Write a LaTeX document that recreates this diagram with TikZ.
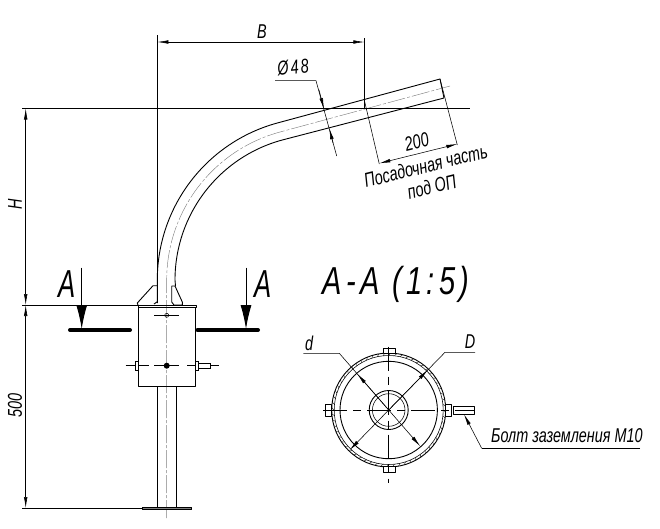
\documentclass[tikz,border=0pt]{standalone}
\usepackage{fontspec}
\setmainfont{Liberation Sans}
\newfontfamily\wideletters[LetterSpace=15]{Liberation Sans}
\usetikzlibrary{arrows.meta}

\tikzset{
  main/.style={line width=0.9pt, line join=round},
  thin line/.style={line width=0.55pt},
  axis/.style={line width=0.45pt, gray, dash pattern=on 18pt off 2pt on 3pt off 2pt},
  centre mark/.style={line width=0.55pt, dash pattern=on 24pt off 6pt on 8pt off 6pt},
  dimtip/.style={-{Latex[length=11pt,width=3.6pt]}},
  dimtips/.style={{Latex[length=11pt,width=3.6pt]}-{Latex[length=11pt,width=3.6pt]}},
  cutbar/.style={line width=4pt, line cap=round},
  dimtext/.style={inner sep=0pt, font=\itshape\fontsize{20}{22}\selectfont, xscale=.72, transform shape},
  bigtext/.style={inner sep=0pt, font=\itshape\fontsize{39}{40}\selectfont, xscale=.66, transform shape}
}

\begin{document}
\begin{tikzpicture}[x=1pt,y=-1pt]
\useasboundingbox (0,0) rectangle (660,528);

% lamp arm
\draw[main] (157.3,303) -- (157.3,280) arc[start angle=180,end angle=255,radius=162.7] -- (440,79) -- (444,98);
\draw[main] (175.5,286) -- (175,280) arc[start angle=180,end angle=255,radius=145] -- (444,98);
\draw[axis] (166.7,518) -- (166.7,280) arc[start angle=180,end angle=255,radius=153.3] -- (450,86);

% gussets, flange and box
\draw[main] (138.3,306) -- (137.3,303) -- (153,285.7) -- (157.3,285.7);
\draw[main] (154,304) -- (157.3,301.7);
\draw[main, fill=white] (171.7,286) -- (175,286) -- (182.3,302) -- (182.3,305) -- (174,305) -- (171.7,302) -- cycle;
\draw[main] (138.3,305) rectangle (196.7,307.7);
\draw[main] (138.7,307.7) rectangle (195.3,386);
\draw[main] (157.3,386) -- (157.3,507);
\draw[main] (176.7,386) -- (176.7,507);
\draw[main, fill=gray] (142.3,507) rectangle (191.7,509.5);

% bolts in the side view
\draw[thin line] (154.3,315.3) -- (179.3,315.3);
\draw[thin line] (166.7,315.3) circle[radius=2];
\draw[thin line] (125.7,365.7) -- (149,365.7);
\draw[thin line] (154.3,365.7) -- (179.3,365.7);
\draw[thin line] (187.3,365.7) -- (219.3,365.7);
\fill (166.7,365.7) circle[radius=3];
\draw[thin line, fill=white] (135.3,361.7) rectangle (138.7,370);
\draw[thin line, fill=white] (195.3,361.7) rectangle (198,370);
\draw[thin line, fill=white] (198.3,363.7) rectangle (210,368);

% extension lines
\draw[thin line] (157.3,35) -- (157.3,278);
\draw[thin line] (364.3,38) -- (364.3,109);
\draw[thin line] (22,108.5) -- (470,108.5);
\draw[thin line] (22,305) -- (138.3,305);
\draw[thin line] (22,508) -- (142.3,508);
\draw[thin line] (364.3,100) -- (379.3,164);
\draw[thin line] (440,79) -- (457.3,145);

% dimensions
\draw[thin line, dimtips] (157.3,42) -- (364.3,42);
\draw[thin line, dimtips] (25.7,108.5) -- (25.7,305);
\draw[thin line, dimtips] (25.7,305) -- (25.7,508);
\draw[thin line, dimtips] (379.3,163.3) -- (457.3,144);
\coordinate (lead48) at (316,80.7);
\draw[thin line] (275,80.7) -- (lead48) -- (336.7,156);
\draw[thin line, dimtip] (319,90) -- (324,109);
\draw[thin line, dimtip] (333,143) -- (329.3,128.3);

\node[dimtext] (dimB) at (262,32) {B};
\node[rotate=90,dimtext] (dimH) at (15,204) {H};
\node[rotate=90,dimtext] (dim500) at (15,405) {500};
\node[rotate=6,dimtext, font=\wideletters\itshape\fontsize{20}{22}\selectfont] (dim48) at (293,67) {Ø48};
\node[rotate=14,dimtext] (dim200) at (416.7,142) {200};
\node[rotate=14,dimtext] (seat) at (425.7,165.7) {Посадочная часть};
\node[rotate=14,dimtext] (seat2) at (431.7,186.7) {под ОП};

% section marks
\draw[cutbar] (70,330) -- (130,330);
\draw[cutbar] (197.5,330) -- (258,330);
\draw[thin line, line width=1pt, -{Latex[length=24pt,width=11pt]}] (81.7,267.7) -- (81.7,329);
\draw[thin line, line width=1pt, -{Latex[length=24pt,width=11pt]}] (246,267.7) -- (246,329);
\node[bigtext] (markL) at (67,284) {A};
\node[bigtext] (markR) at (263,284) {A};
\node[bigtext, xscale=1.13, font=\wideletters\itshape\fontsize{39}{40}\selectfont] (section) at (396,284) {A-A (1:5)};

% section view
\coordinate (c) at (388.7,410);
\draw[main] (c) circle[radius=57];
\draw[thin line] (c) circle[radius=54.5];
\foreach \a in {0,6,...,354}
  \draw[line width=0.35pt] (c) ++(\a:54.5) -- ++(\a+40:3);
\draw[main] (c) circle[radius=48.7];
\draw[main] (c) circle[radius=19.5];
\draw[thin line] (c) circle[radius=16.3];
\draw[main, fill=white] (383.3,348.3) rectangle (395,353.5);
\draw[main, fill=white] (383.3,466.5) rectangle (395,472.3);
\draw[main, fill=white] (325.7,404) rectangle (331.7,416.7);
\draw[main, fill=white] (445.7,404) rectangle (451.7,416.7);
\draw[main, fill=white] (453.3,406.7) rectangle (474.3,414.3);
\draw[centre mark] (323,410) -- (475,410);
\draw[centre mark] (388.7,346.7) -- (388.7,483.3);

\coordinate (leadd) at (339.3,353.3);
\coordinate (leadD) at (445,352.3);
\draw[thin line] (303.3,353.3) -- (leadd) -- (c);
\draw[thin line] (475,352.3) -- (leadD) -- (c);
\draw[thin line, dimtip] (c) -- (357.2,373.8);
\draw[thin line, dimtip] (c) -- (420.2,446.2);
\draw[thin line, dimtip] (c) -- (427.8,369.9);
\draw[thin line, dimtip] (c) -- (349.6,450.1);
\node[dimtext] (dimd) at (309,343) {d};
\node[dimtext] (dimD) at (470,342) {D};

\coordinate (leadbolt) at (481.7,448.3);
\draw[thin line] (640,448.3) -- (leadbolt);
\draw[thin line, dimtip] (leadbolt) -- (464,414.3);
\node[dimtext, anchor=base west] (bolt) at (491,442) {Болт заземления М10};
\end{tikzpicture}
\end{document}
